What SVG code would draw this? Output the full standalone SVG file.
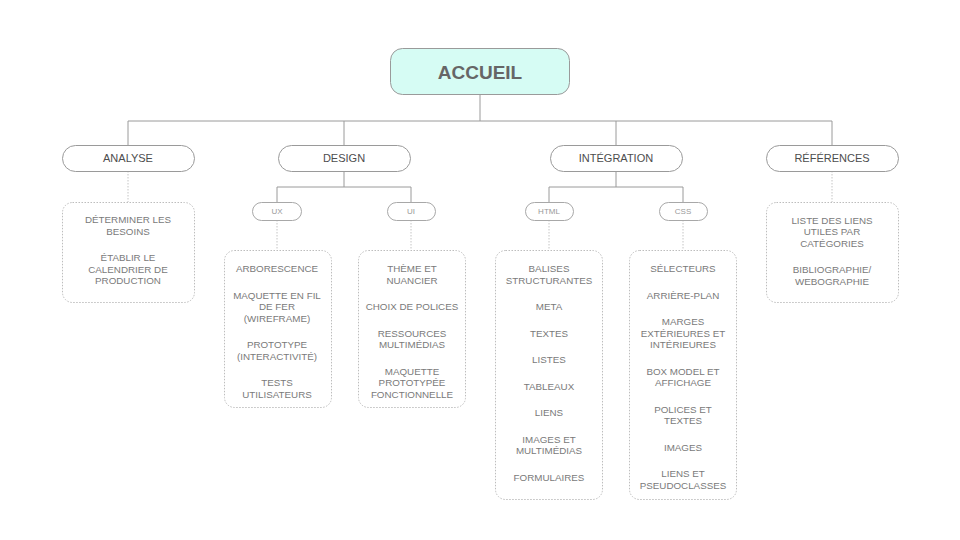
<svg xmlns="http://www.w3.org/2000/svg" width="960" height="540" viewBox="0 0 960 540">
<style>
.bg{fill:#ffffff}
.root{fill:#d6fcf4;stroke:#9a9a9a;stroke-width:1}
.pill{fill:#ffffff;stroke:#9a9a9a;stroke-width:1}
.sub{fill:#ffffff;stroke:#a8a8a8;stroke-width:1}
.leaf{fill:#ffffff;stroke:#bdbdbd;stroke-width:1;stroke-dasharray:1.5 1.5}
.ln{stroke:#9a9a9a;stroke-width:1;fill:none}
.dl{stroke:#c4c4c4;stroke-width:1;fill:none;stroke-dasharray:1.5 1.5}
text{font-family:"Liberation Sans",Arial,sans-serif;text-anchor:middle}
.t0{font-size:19px;font-weight:700;fill:#666666}
.t1{font-size:11px;fill:#4d4d4d}
.t2{font-size:8px;fill:#999999}
.t3{font-size:9.8px;fill:#7a7a7a}
</style>
<rect class="bg" x="0" y="0" width="960" height="540"/>
<g id="connectors">
<path class="ln" d="M480 94V121M128 121H832M128 121V145M344 121V145M616 121V145M832 121V145"/>
<path class="ln" d="M344 171V187M277 187H411M277 187V202M411 187V202"/>
<path class="ln" d="M616 171V187M549 187H683M549 187V202M683 187V202"/>
<path class="dl" d="M128 171V202M832 171V202M277 220V250M411 220V250M549 220V250M683 220V250"/>
</g>
<g id="accueil"><rect class="root" x="390.5" y="48.5" width="179" height="46" rx="12"/><text class="t0" x="480" y="78.5">ACCUEIL</text></g>
<g id="analyse"><rect class="pill" x="62.5" y="145.5" width="132" height="26" rx="13"/><text class="t1" x="128" y="162">ANALYSE</text></g>
<g id="design"><rect class="pill" x="278.5" y="145.5" width="132" height="26" rx="13"/><text class="t1" x="344" y="162">DESIGN</text></g>
<g id="integration"><rect class="pill" x="550.5" y="145.5" width="132" height="26" rx="13"/><text class="t1" x="616" y="162">INTÉGRATION</text></g>
<g id="references"><rect class="pill" x="766.5" y="145.5" width="132" height="26" rx="13"/><text class="t1" x="832" y="162">RÉFÉRENCES</text></g>
<g id="ux"><rect class="sub" x="252.5" y="202.5" width="49" height="18" rx="9"/><text class="t2" x="277" y="214">UX</text></g>
<g id="ui"><rect class="sub" x="387.5" y="202.5" width="48" height="18" rx="9"/><text class="t2" x="411" y="214">UI</text></g>
<g id="html"><rect class="sub" x="525.5" y="202.5" width="48" height="18" rx="9"/><text class="t2" x="549" y="214">HTML</text></g>
<g id="css"><rect class="sub" x="659.5" y="202.5" width="48" height="18" rx="9"/><text class="t2" x="683" y="214">CSS</text></g>
<g id="analyse-items"><rect class="leaf" x="62.5" y="202.5" width="132" height="100" rx="10"/>
<text class="t3" x="128" y="223">DÉTERMINER LES</text><text class="t3" x="128" y="234.5">BESOINS</text>
<text class="t3" x="128" y="261">ÉTABLIR LE</text><text class="t3" x="128" y="272.5">CALENDRIER DE</text><text class="t3" x="128" y="284">PRODUCTION</text></g>
<g id="ux-items"><rect class="leaf" x="224.5" y="250.5" width="107" height="157" rx="10"/>
<text class="t3" x="277" y="272">ARBORESCENCE</text>
<text class="t3" x="277" y="298.5">MAQUETTE EN FIL</text><text class="t3" x="277" y="310">DE FER</text><text class="t3" x="277" y="321.5">(WIREFRAME)</text>
<text class="t3" x="277" y="348">PROTOTYPE</text><text class="t3" x="277" y="359.5">(INTERACTIVITÉ)</text>
<text class="t3" x="277" y="386">TESTS</text><text class="t3" x="277" y="397.5">UTILISATEURS</text></g>
<g id="ui-items"><rect class="leaf" x="358.5" y="250.5" width="107" height="157" rx="10"/>
<text class="t3" x="412" y="272">THÈME ET</text><text class="t3" x="412" y="283.5">NUANCIER</text>
<text class="t3" x="412" y="310">CHOIX DE POLICES</text>
<text class="t3" x="412" y="336.5">RESSOURCES</text><text class="t3" x="412" y="348">MULTIMÉDIAS</text>
<text class="t3" x="412" y="374.5">MAQUETTE</text><text class="t3" x="412" y="386">PROTOTYPÉE</text><text class="t3" x="412" y="397.5">FONCTIONNELLE</text></g>
<g id="html-items"><rect class="leaf" x="495.5" y="250.5" width="107" height="249" rx="10"/>
<text class="t3" x="549" y="272">BALISES</text><text class="t3" x="549" y="283.5">STRUCTURANTES</text>
<text class="t3" x="549" y="310">META</text>
<text class="t3" x="549" y="336.5">TEXTES</text>
<text class="t3" x="549" y="363">LISTES</text>
<text class="t3" x="549" y="389.5">TABLEAUX</text>
<text class="t3" x="549" y="416">LIENS</text>
<text class="t3" x="549" y="442.5">IMAGES ET</text><text class="t3" x="549" y="454">MULTIMÉDIAS</text>
<text class="t3" x="549" y="480.5">FORMULAIRES</text></g>
<g id="css-items"><rect class="leaf" x="629.5" y="250.5" width="107" height="249" rx="10"/>
<text class="t3" x="683" y="272">SÉLECTEURS</text>
<text class="t3" x="683" y="298.5">ARRIÈRE-PLAN</text>
<text class="t3" x="683" y="325">MARGES</text><text class="t3" x="683" y="336.5">EXTÉRIEURES ET</text><text class="t3" x="683" y="348">INTÉRIEURES</text>
<text class="t3" x="683" y="374.5">BOX MODEL ET</text><text class="t3" x="683" y="386">AFFICHAGE</text>
<text class="t3" x="683" y="412.5">POLICES ET</text><text class="t3" x="683" y="424">TEXTES</text>
<text class="t3" x="683" y="450.5">IMAGES</text>
<text class="t3" x="683" y="477">LIENS ET</text><text class="t3" x="683" y="488.5">PSEUDOCLASSES</text></g>
<g id="references-items"><rect class="leaf" x="766.5" y="202.5" width="132" height="100" rx="10"/>
<text class="t3" x="832" y="223.5">LISTE DES LIENS</text><text class="t3" x="832" y="235">UTILES PAR</text><text class="t3" x="832" y="246.5">CATÉGORIES</text>
<text class="t3" x="832" y="273">BIBLIOGRAPHIE/</text><text class="t3" x="832" y="284.5">WEBOGRAPHIE</text></g>
</svg>
